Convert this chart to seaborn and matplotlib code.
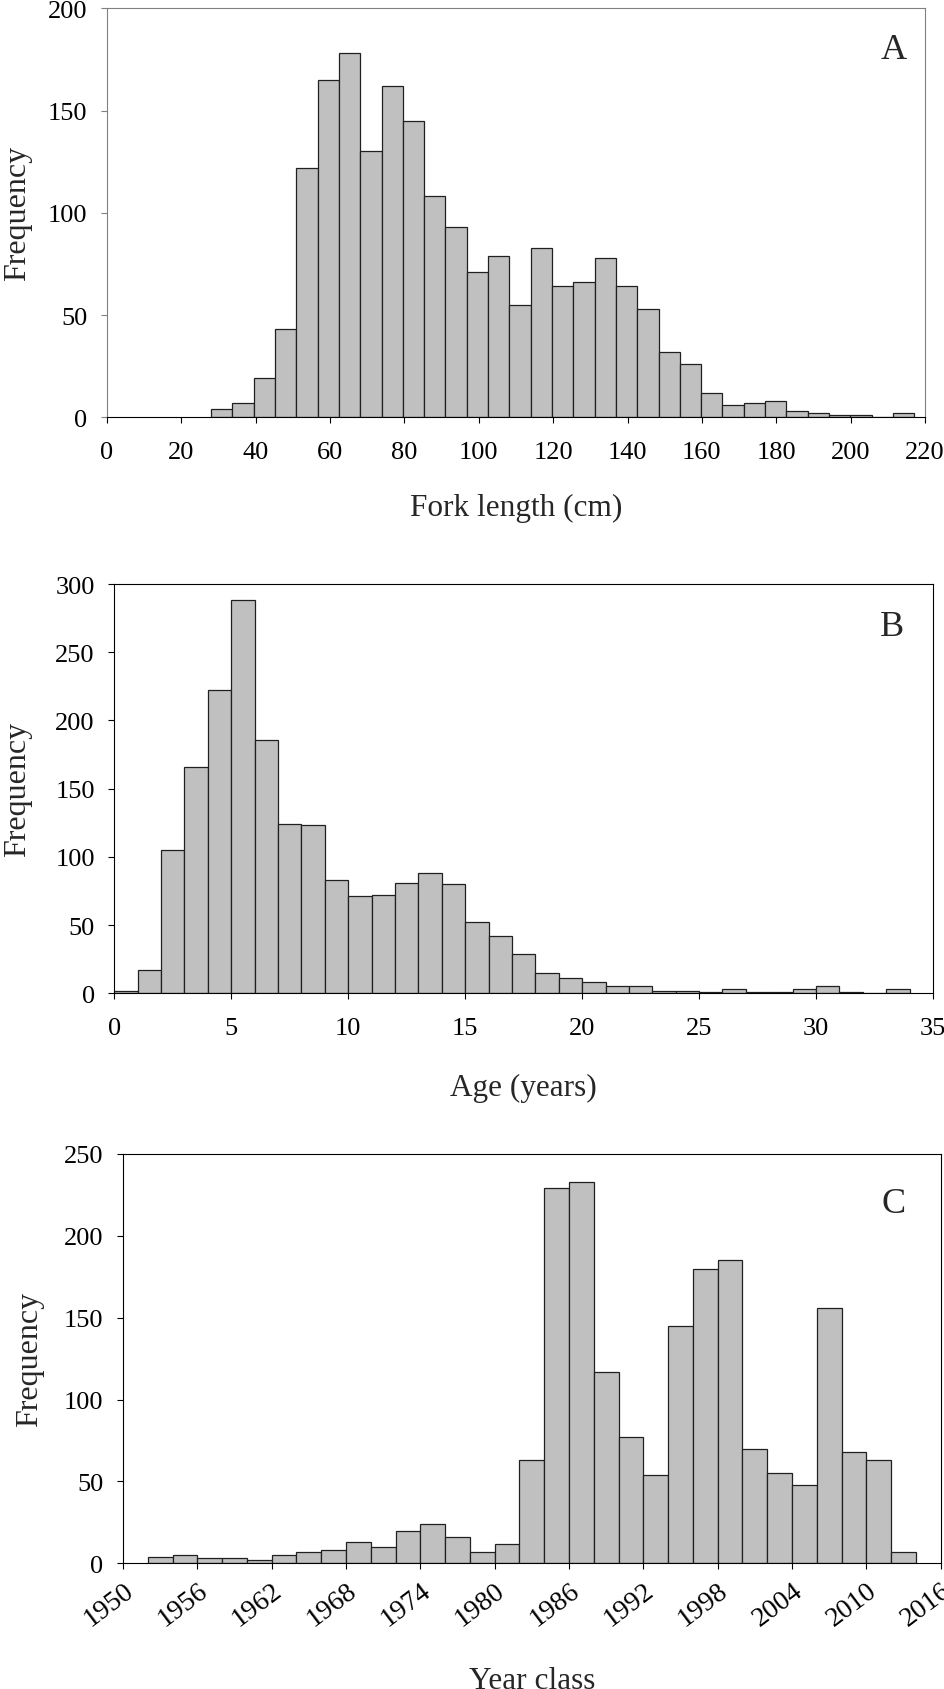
import numpy as np
import pandas as pd
import matplotlib
matplotlib.use("Agg")
import matplotlib.pyplot as plt
import seaborn as sns

# ---------------- data ----------------
# Panel A: fork length (cm), bins start at 28 cm, width 5.73 cm
length_bin_start = 28.0
length_bin_width = 5.73
length_counts = [4, 7, 19, 43, 122, 165, 178, 130, 162, 145, 108, 93, 71, 79, 55, 83,
                 64, 66, 78, 64, 53, 32, 26, 12, 6, 7, 8, 3, 2, 1, 1, 0, 2]

# Panel B: age (years), 1-year bins from 0
age_bin_start = 0
age_bin_width = 1
age_counts = [2, 17, 105, 166, 222, 288, 186, 124, 123, 83, 71, 72, 81, 88, 80, 52,
              42, 29, 15, 11, 8, 5, 5, 2, 2, 1, 3, 1, 1, 3, 5, 1, 0, 3]

# Panel C: year class, 2-year bins from 1952
year_bin_start = 1952
year_bin_width = 2
year_counts = [4, 5, 3, 3, 2, 5, 7, 8, 13, 10, 20, 24, 16, 7, 12, 63, 229, 233,
               117, 77, 54, 145, 180, 185, 70, 55, 48, 156, 68, 63, 7]

panel_letters = ["A", "B", "C"]
x_labels = ["Fork length (cm)", "Age (years)", "Year class"]
y_label = "Frequency"
x_ticks = [list(range(0, 221, 20)), list(range(0, 36, 5)), list(range(1950, 2017, 6))]
y_ticks = [list(range(0, 201, 50)), list(range(0, 301, 50)), list(range(0, 251, 50))]

# ---------------- style ----------------
sns.set_style("ticks")
plt.rcParams["font.family"] = ["Liberation Serif", "DejaVu Serif"]
plt.rcParams["axes.linewidth"] = 0.8

fig = plt.figure(figsize=(9.45, 16.9), dpi=100)

axes_pos = [
    [107 / 945, (1690 - 418.3) / 1690, 818 / 945, 409 / 1690],
    [114.3 / 945, (1690 - 994.3) / 1690, 818.7 / 945, 409.3 / 1690],
    [123 / 945, (1690 - 1564.3) / 1690, 817.7 / 945, 409.3 / 1690],
]

datasets = [
    (length_bin_start, length_bin_width, length_counts),
    (age_bin_start, age_bin_width, age_counts),
    (year_bin_start, year_bin_width, year_counts),
]

letter_pos = [(0.962, 0.899), (0.950, 0.896), (0.942, 0.880)]
ylabel_x = [-0.092, -0.100, -0.096]
xlabel_y = [-0.186, -0.195, -0.250]

for i, (start, width, counts) in enumerate(datasets):
    ax = fig.add_axes(axes_pos[i])
    n = len(counts)
    edges = [start + width * k for k in range(n + 1)]
    centers = [(edges[k] + edges[k + 1]) / 2 for k in range(n)]
    df = pd.DataFrame({"x": centers, "w": [float(c) for c in counts]})
    sns.histplot(data=df, x="x", weights="w", bins=edges, ax=ax,
                 color="#C0C0C0", edgecolor="#202020", linewidth=0.9, alpha=1.0)

    ax.set_xlim(x_ticks[i][0], x_ticks[i][-1])
    ax.set_ylim(y_ticks[i][0], y_ticks[i][-1])
    ax.set_xticks(x_ticks[i])
    ax.set_yticks(y_ticks[i])
    ax.set_xticklabels([str(v) for v in x_ticks[i]])
    ax.set_yticklabels([str(v) for v in y_ticks[i]])

    ax.tick_params(axis="both", direction="out", length=4, width=0.8,
                   labelsize=19, colors="black")
    ax.tick_params(axis="y", pad=10)
    ax.tick_params(axis="x", pad=13)

    for s in ["top", "right", "left", "bottom"]:
        ax.spines[s].set_visible(True)
        ax.spines[s].set_color("black")
        ax.spines[s].set_linewidth(0.8)
    if i == 0:
        for s in ["top", "right", "left"]:
            ax.spines[s].set_color("#808080")
        ax.tick_params(axis="y", color="#808080")

    ax.set_ylabel(y_label, fontsize=23)
    ax.set_xlabel(x_labels[i], fontsize=22.5)
    ax.yaxis.set_label_coords(ylabel_x[i], 0.5)
    ax.xaxis.set_label_coords(0.5, xlabel_y[i])

    ax.text(letter_pos[i][0], letter_pos[i][1], panel_letters[i], transform=ax.transAxes,
            ha="center", va="center", fontsize=26)

    if i == 2:
        ax.tick_params(axis="x", pad=6, labelsize=20)
        plt.setp(ax.get_xticklabels(), rotation=37, ha="right", rotation_mode="anchor")

fig.savefig("out.png", dpi=100)
